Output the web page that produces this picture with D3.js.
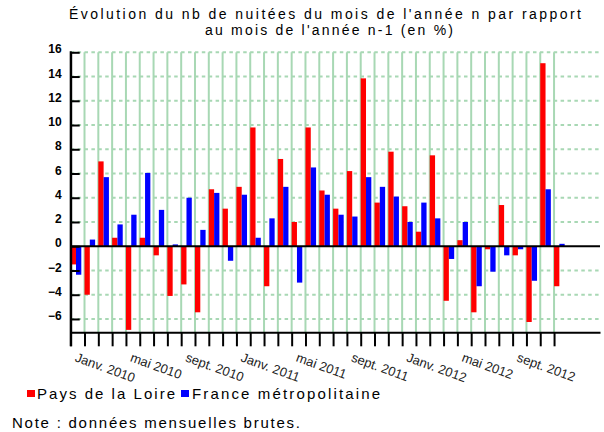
<!DOCTYPE html>
<html>
<head>
<meta charset="utf-8">
<script src="https://cdn.jsdelivr.net/npm/d3@7"></script>
<style>
  body { margin: 0; background: #fff; }
  text { font-family: "Liberation Sans", Arial, sans-serif; }
</style>
</head>
<body>
<svg width="604" height="432"></svg>
<script>
// monthly change vs same month of previous year (%), janv. 2010 -> déc. 2012
var months = ["janv. 2010","févr. 2010","mars 2010","avr. 2010","mai 2010","juin 2010","juil. 2010","août 2010","sept. 2010","oct. 2010","nov. 2010","déc. 2010",
              "janv. 2011","févr. 2011","mars 2011","avr. 2011","mai 2011","juin 2011","juil. 2011","août 2011","sept. 2011","oct. 2011","nov. 2011","déc. 2011",
              "janv. 2012","févr. 2012","mars 2012","avr. 2012","mai 2012","juin 2012","juil. 2012","août 2012","sept. 2012","oct. 2012","nov. 2012","déc. 2012"];
var paysLoire = [-1.5, -4.0, 7.0, 0.7, -6.9, 0.7, -0.75, -4.1, -3.15, -5.45, 4.7, 3.1,
                 4.9, 9.8, -3.3, 7.2, 2.0, 9.8, 4.6, 3.1, 6.2, 13.85, 3.6, 7.8,
                 3.3, 1.2, 7.5, -4.5, 0.5, -5.45, -0.25, 3.4, -0.75, -6.25, 15.1, -3.3];
var france = [-2.35, 0.55, 5.7, 1.8, 2.6, 6.05, 3.0, 0.15, 4.0, 1.35, 4.4, -1.2,
              4.25, 0.7, 2.3, 4.9, -3.0, 6.5, 4.25, 2.6, 2.45, 5.7, 4.9, 4.1,
              2.0, 3.6, 2.3, -1.05, 2.0, -3.3, -2.1, -0.75, -0.25, -2.85, 4.7, 0.2];
var yTicks = [-6, -4, -2, 0, 2, 4, 6, 8, 10, 12, 14, 16];
var xTickIdx = [0, 4, 8, 12, 16, 20, 24, 28, 32];
var xTickLabels = ["Janv. 2010","mai 2010","sept. 2010","Janv. 2011","mai 2011","sept. 2011","Janv. 2012","mai 2012","sept. 2012"];
var series = [{name: "Pays de la Loire", color: "#ff0000", values: paysLoire},
              {name: "France métropolitaine", color: "#0000ff", values: france}];

var plotLeft = 70.7, plotRight = 600, plotTop = 52.3, plotBottom = 332.3;
var step = 13.81;
var barW = 5.3;
var grid = "#a8d8b4";

var svg = d3.select("svg");

var x = d3.scaleLinear().domain([0, (plotRight - plotLeft) / step]).range([plotLeft, plotRight]);
var y = d3.scaleLinear().domain([-7.1, 16]).range([plotBottom, plotTop]);

// title
svg.append("text").attr("x", 325).attr("y", 19).attr("text-anchor", "middle")
  .attr("font-size", 14).attr("textLength", 512).attr("lengthAdjust", "spacing")
  .text("Évolution du nb de nuitées du mois de l'année n par rapport");
svg.append("text").attr("x", 329).attr("y", 35).attr("text-anchor", "middle")
  .attr("font-size", 14).attr("textLength", 248).attr("lengthAdjust", "spacing")
  .text("au mois de l'année n-1 (en %)");

// horizontal dashed grid
svg.append("g").selectAll("line")
  .data(yTicks.filter(function(d){ return d != 0; }))
  .enter().append("line")
  .attr("x1", plotLeft).attr("x2", plotRight)
  .attr("y1", function(d){ return y(d); }).attr("y2", function(d){ return y(d); })
  .attr("stroke", grid).attr("stroke-width", 2)
  .attr("stroke-dasharray", "3.5,3.4");

// vertical grid at month boundaries
svg.append("g").selectAll("line")
  .data(d3.range(1, months.length))
  .enter().append("line")
  .attr("x1", function(d){ return x(d); }).attr("x2", function(d){ return x(d); })
  .attr("y1", plotTop).attr("y2", plotBottom)
  .attr("stroke", grid).attr("stroke-width", 2);

// bars
series.forEach(function(s, k){
  svg.append("g").selectAll("rect")
    .data(s.values)
    .enter().append("rect")
    .attr("x", function(d, i){ return x(i) + k * barW; })
    .attr("width", barW)
    .attr("y", function(d){ return y(Math.max(0, d)); })
    .attr("height", function(d){ return Math.abs(y(d) - y(0)); })
    .attr("fill", s.color);
});

// zero line
svg.append("line").attr("x1", plotLeft).attr("x2", plotRight)
  .attr("y1", y(0)).attr("y2", y(0))
  .attr("stroke", "#000").attr("stroke-width", 2);

// y axis
var yAxis = svg.append("g").attr("transform", "translate(" + plotLeft + ",0)")
  .call(d3.axisLeft(y).tickValues(yTicks).tickSize(-9).tickSizeOuter(0).tickPadding(9));
yAxis.select(".domain").attr("stroke-width", 2);
yAxis.selectAll(".tick line").attr("stroke-width", 2);
yAxis.selectAll(".tick text")
  .attr("font-family", "'DejaVu Sans', sans-serif")
  .attr("font-weight", "bold").attr("font-size", 12)
  .attr("dy", "0.05em").attr("fill", "#000");

// x axis (ticks at month boundaries)
var xAxis = svg.append("g").attr("transform", "translate(0," + plotBottom + ")")
  .call(d3.axisBottom(x).tickValues(d3.range(0, months.length)).tickSize(14).tickSizeOuter(0).tickFormat(""));
xAxis.select(".domain").attr("stroke-width", 2);
xAxis.selectAll(".tick line").attr("stroke-width", 2);

svg.append("line").attr("x1", plotLeft).attr("x2", plotLeft).attr("y1", plotTop - 1).attr("y2", plotBottom + 14)
  .attr("stroke", "#000").attr("stroke-width", 2);

// rotated month labels
svg.append("g").selectAll("text")
  .data(xTickIdx)
  .enter().append("text")
  .attr("transform", function(d){ return "translate(" + (x(d) + 3.5) + ",361) rotate(20)"; })
  .attr("font-size", 13).attr("fill", "#222")
  .text(function(d, i){ return xTickLabels[i]; });

// legend
var lg = [{x: 27, tx: 37, w: 138}, {x: 181, tx: 192, w: 188}];
series.forEach(function(s, k){
  svg.append("rect").attr("x", lg[k].x).attr("y", 390).attr("width", 8).attr("height", 7).attr("fill", s.color);
  svg.append("text").attr("x", lg[k].tx).attr("y", 398.5).attr("font-size", 15)
    .attr("textLength", lg[k].w).attr("lengthAdjust", "spacing").text(s.name);
});

svg.append("text").attr("x", 12).attr("y", 428).attr("font-size", 15)
  .attr("textLength", 288).attr("lengthAdjust", "spacing")
  .text("Note : données mensuelles brutes.");
</script>
</body>
</html>
